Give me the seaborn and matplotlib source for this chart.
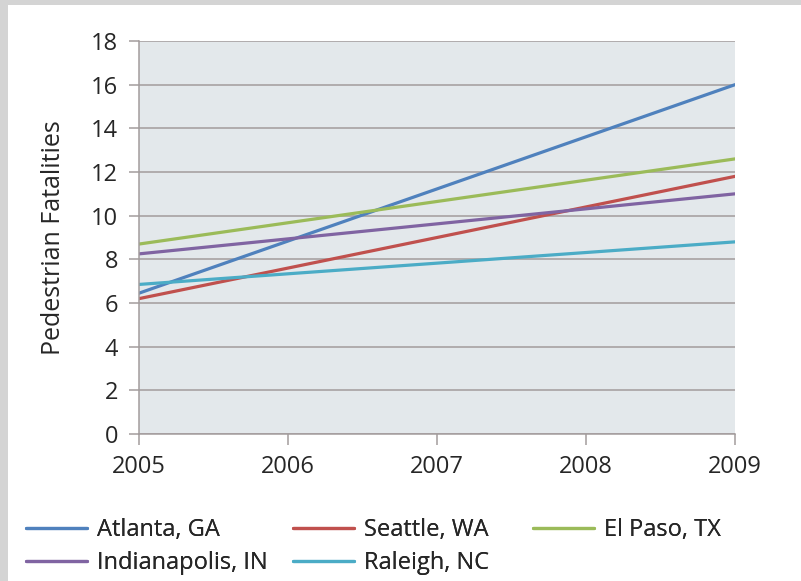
import matplotlib
matplotlib.use("Agg")
import matplotlib.pyplot as plt
from matplotlib.patches import Rectangle
import pandas as pd
import seaborn as sns

# Trend of pedestrian fatalities per city, 2005 -> 2009
years = [2005, 2009]
cities = ["Atlanta, GA", "Seattle, WA", "El Paso, TX", "Indianapolis, IN", "Raleigh, NC"]
atlanta = [6.45, 16.0]
seattle = [6.2, 11.8]
el_paso = [8.7, 12.6]
indianapolis = [8.25, 11.0]
raleigh = [6.85, 8.8]
year_ticks = [2005, 2006, 2007, 2008, 2009]
fatality_ticks = [0, 2, 4, 6, 8, 10, 12, 14, 16, 18]

colors = ["#4f81bd", "#c0504d", "#9bbb59", "#8064a2", "#4bacc6"]

series = [atlanta, seattle, el_paso, indianapolis, raleigh]
df = pd.DataFrame(
    [(y, v, c) for c, vals in zip(cities, series) for y, v in zip(years, vals)],
    columns=["Year", "Fatalities", "City"],
)

sns.set_theme(style="white")
plt.rcParams["font.family"] = ["Open Sans", "DejaVu Sans"]

W, H = 801, 581
FS = 17
TXT = "#262626"
fig = plt.figure(figsize=(W / 100, H / 100), dpi=100, facecolor="#d4d4d4")
# white card, leaving a grey strip on the left and top
fig.patches.append(Rectangle((8 / W, 0), 1 - 8 / W, 1 - 5 / H,
                             transform=fig.transFigure, facecolor="white",
                             edgecolor="none", zorder=-10))

ax = fig.add_axes([139 / W, 1 - 434 / H, (735 - 139) / W, (434 - 41) / H])
ax.set_facecolor("#e3e8eb")

sns.lineplot(data=df, x="Year", y="Fatalities", hue="City", hue_order=cities,
             palette=colors, linewidth=2.3, ax=ax, legend=True)

ax.set_xlim(2005, 2009)
ax.set_ylim(0, 18)
ax.set_xticks(year_ticks)
ax.set_xticklabels([str(t) for t in year_ticks])
ax.set_yticks(fatality_ticks)

grid_col = "#a39c9c"
ax.yaxis.grid(True, color=grid_col, linewidth=1.1)
ax.xaxis.grid(False)
ax.set_axisbelow(True)
for side in ["top", "right"]:
    ax.spines[side].set_visible(False)
for side in ["left", "bottom"]:
    ax.spines[side].set_color(grid_col)
    ax.spines[side].set_linewidth(1.1)

ax.tick_params(axis="y", which="major", direction="out", length=7, width=1.1,
               color=grid_col, pad=8, labelsize=FS, labelcolor=TXT)
ax.tick_params(axis="x", which="major", direction="out", length=8, width=1.1,
               color=grid_col, pad=7, labelsize=FS, labelcolor=TXT)
ax.tick_params(left=True, bottom=True)

ax.set_xlabel("")
ax.set_ylabel("Pedestrian Fatalities", fontsize=18, color=TXT, labelpad=18)

# legend: three columns over two rows
handles, labels = ax.get_legend_handles_labels()
ax.get_legend().remove()
lut = dict(zip(labels, handles))
positions = {
    "Atlanta, GA": (26, 530),
    "Seattle, WA": (293, 530),
    "El Paso, TX": (533, 530),
    "Indianapolis, IN": (26, 563),
    "Raleigh, NC": (293, 563),
}
for name in cities:
    x, y = positions[name]
    leg = fig.legend([lut[name]], [name], loc="center left",
                     bbox_to_anchor=(x / W, 1 - y / H),
                     bbox_transform=fig.transFigure, frameon=False,
                     fontsize=FS, handlelength=2.6, handletextpad=0.4,
                     borderpad=0, borderaxespad=0)
    for t in leg.get_texts():
        t.set_color(TXT)
    fig.add_artist(leg)

fig.savefig("out.png", dpi=100, facecolor=fig.get_facecolor())
